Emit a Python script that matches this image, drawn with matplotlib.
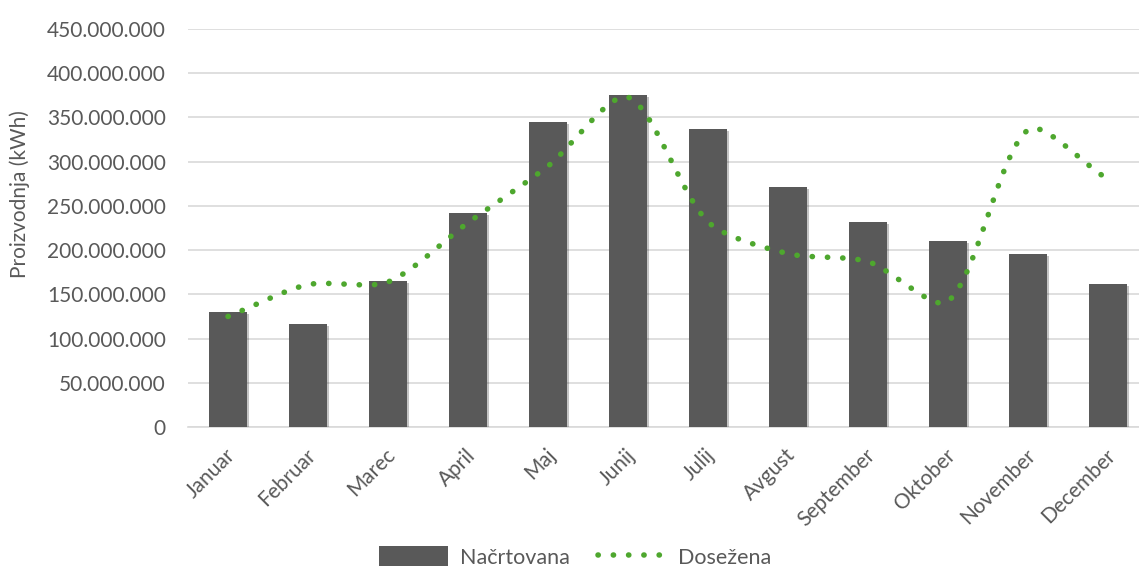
import numpy as np
import matplotlib
matplotlib.use("Agg")
import matplotlib.pyplot as plt
from matplotlib import patheffects as pe
from matplotlib.ticker import FuncFormatter
from matplotlib.lines import Line2D
from matplotlib.patches import Patch
from matplotlib.transforms import ScaledTranslation

months = ["Januar", "Februar", "Marec", "April", "Maj", "Junij",
          "Julij", "Avgust", "September", "Oktober", "November", "December"]
planned = [130e6, 117e6, 165e6, 242e6, 345e6, 375e6,
           337e6, 271e6, 232e6, 210e6, 196e6, 162e6]      # Načrtovana
achieved = [125e6, 161e6, 164e6, 231e6, 295e6, 373e6,
            232e6, 196e6, 187e6, 142e6, 336e6, 280e6]     # Dosežena

BAR_C = "#595959"
LINE_C = "#4ea72e"
GRID_C = "#d9d9d9"
TXT_C = "#595959"
FONT = "Lato"
FS = 15
LW = 4.0
DOTS = (0, (0.05, 2.7))   # round-capped dots


def smooth(xs, ys, sx=80.0, sy=0.8844e-6, k=0.27, n=30):
    # Bezier curve through the points, tangents weighted by segment length
    # (worked out in screen-like units so the shape looks like Excel's smoothing)
    P = np.column_stack([np.asarray(xs, float) * sx, np.asarray(ys, float) * sy])
    m = len(P)
    out = []
    t = np.linspace(0, 1, n)[:, None]
    seg = np.linalg.norm(np.diff(P, axis=0), axis=1)
    for i in range(m - 1):
        p1, p2 = P[i], P[i + 1]
        if i == 0:
            c1 = p1 + (p2 - p1) / 3
        else:
            d = P[i + 1] - P[i - 1]
            c1 = p1 + d * k * seg[i] / (seg[i - 1] + seg[i])
        if i + 2 >= m:
            c2 = p2 - (p2 - p1) / 3
        else:
            d = P[i + 2] - P[i]
            c2 = p2 - d * k * seg[i] / (seg[i] + seg[i + 1])
        b = (1 - t) ** 3 * p1 + 3 * (1 - t) ** 2 * t * c1 + 3 * (1 - t) * t ** 2 * c2 + t ** 3 * p2
        out.append(b)
    out = np.vstack(out)
    return out[:, 0] / sx, out[:, 1] / sy


fig = plt.figure(figsize=(11.39, 5.68), dpi=100)
ax = fig.add_axes([188 / 1139, 1 - 427 / 568, 1 - 188 / 1139, 398 / 568])

x = np.arange(len(months))
bars = ax.bar(x, planned, width=0.475, color=BAR_C, zorder=3)
for b in bars:
    b.set_path_effects([pe.SimplePatchShadow(offset=(1.5, -1.5), alpha=0.25), pe.Normal()])

cx, cy = smooth(x, achieved)
ax.plot(cx, cy, color=LINE_C, lw=LW, linestyle=DOTS, dash_capstyle="round", zorder=4)

ax.set_ylim(0, 450e6)
ax.set_xlim(-0.5, 11.5 - 9 / 80)
ax.set_yticks(np.arange(0, 450e6 + 1, 50e6))
ax.yaxis.set_major_formatter(FuncFormatter(lambda v, p: f"{int(v):,}".replace(",", ".")))
ax.grid(axis="y", color=GRID_C, lw=1.2, zorder=0)
ax.set_axisbelow(True)
for s in ("top", "right", "left"):
    ax.spines[s].set_visible(False)
ax.spines["bottom"].set_color(GRID_C)
ax.spines["bottom"].set_linewidth(1.2)
ax.tick_params(length=0, colors=TXT_C, labelsize=FS)
ax.tick_params(axis="y", pad=16)
for lab in ax.get_yticklabels():
    lab.set_fontfamily(FONT)

ax.set_xticks(x)
ax.set_xticklabels(months, rotation=45, ha="right", rotation_mode="anchor",
                   fontfamily=FONT, fontsize=FS, color=TXT_C)
off = ScaledTranslation(-3 / 100, -13 / 100, fig.dpi_scale_trans)
for lab in ax.get_xticklabels():
    lab.set_transform(lab.get_transform() + off)

fig.text(20 / 1139, 1 - 194 / 568, "Proizvodnja (kWh)", rotation=90, ha="center",
         va="center", fontfamily=FONT, fontsize=FS, color=TXT_C)

handles = [Patch(facecolor=BAR_C, label="Načrtovana"),
           Line2D([0], [0], color=LINE_C, lw=LW, linestyle=DOTS,
                  dash_capstyle="round", label="Dosežena")]
fig.legend(handles=handles, loc="center", bbox_to_anchor=(0.505, 1 - 557 / 568),
           ncol=2, frameon=False, handlelength=3.2, handleheight=1.0,
           columnspacing=1.3, handletextpad=0.55,
           prop={"family": FONT, "size": 15.5}, labelcolor=TXT_C)

fig.savefig("out.png", dpi=100, facecolor="white")
